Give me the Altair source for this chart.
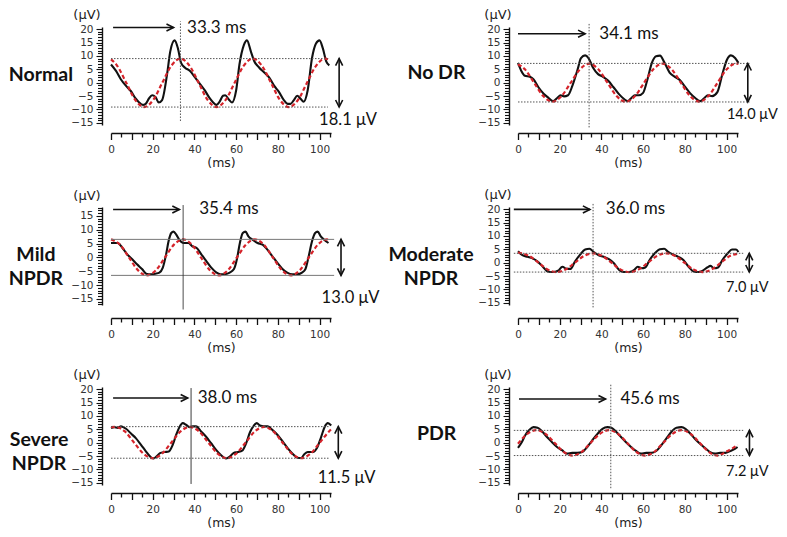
import math
import altair as alt
import pandas as pd

# ---------------- panel metadata ----------------
panel_labels = ["Normal", "No DR", "Mild\nNPDR", "Moderate\nNPDR", "Severe\nNPDR", "PDR"]
latency_labels = ["33.3 ms", "34.1 ms", "35.4 ms", "36.0 ms", "38.0 ms", "45.6 ms"]
amplitude_labels = ["18.1 μV", "14.0 μV", "13.0 μV", "7.0 μV", "11.5 μV", "7.2 μV"]

peak_level = [9.0, 7.2, 6.5, 3.5, 6.0, 4.6]
trough_level = [-9.1, -7.2, -6.5, -3.5, -5.8, -4.8]
level_start = [0, 0, 0, -2, 0, -2]
level_end = [104, 111, 107, 108, 105, 108]

latency_x = [33.3, 34.1, 34.6, 36.0, 38.4, 44.5]
latency_top = [22.9, 22.0, 18.9, 22.3, 20.4, 21.9]
latency_bottom = [-14.3, -16.7, -18.8, -16.7, -15.4, -17.0]

arrow_y = [20.6, 18.3, 17.3, 19.9, 16.7, 16.3]
arrow_start = [1.0, 0.0, 1.0, -2.0, 1.0, 0.5]
arrow_end = [30.0, 32.2, 32.8, 34.5, 36.8, 42.0]
latency_text_x = [36.5, 39.0, 42.3, 42.1, 41.6, 49.1]

amp_arrow_x = [109.4, 110.2, 110.3, 110.9, 109.0, 111.0]
amp_text_x = [99.8, 100.2, 101.0, 99.8, 99.1, 99.8]
amp_text_y = [-13.9, -12.0, -14.5, -9.4, -13.3, -11.1]
amp_font = [16.5, 14.5, 16.5, 14.5, 16.5, 14.5]

label_x = [-33.6, -39.1, -36.0, -41.7, -34.5, -39.0]
label_y = [3.0, 3.8, 0.7, 2.8, 1.0, 3.2]
unit_x = [-11.5, -9.6, -11.5, -9.6, -11.5, -9.6]
unit_y = [25.3, 25.3, 22.0, 25.3, 25.3, 25.3]

y_domains = [[-15.8, 20.8], [-15.8, 20.8], [-17.2, 18.2], [-15.8, 20.8], [-15.8, 20.8], [-15.8, 20.8]]
x_offsets = [8, 8, 13, 13, 8, 8]
vline_solid = [False, False, True, False, True, False]
level_solid = [False, False, True, False, False, False]

# ---------------- waveforms (ms, μV) ----------------
normal_black_t = [0, 2.4, 4.7, 7.1, 9.5, 11.8, 13.4, 15.3, 16.6, 18.2, 19.7, 21.3, 22.9, 24.5, 26.9, 28.4, 30.5, 32.1, 33.6, 35.5, 37.9, 40.3, 42.7, 45.0, 47.4, 49.0, 50.6, 52.1, 53.7, 54.8, 56.4, 58.0, 60.0, 61.6, 63.7, 65.2, 67.1, 68.7, 71.1, 73.5, 75.8, 78.2, 80.6, 82.9, 84.8, 86.1, 87.7, 89.3, 90.8, 92.4, 94.3, 96.4, 98.3, 100.0, 101.6, 103.2, 104.7]
normal_black_v = [6.8, 4.4, 1.3, -1.1, -3.1, -5.9, -7.3, -8.3, -7.9, -5.9, -4.7, -5.3, -7.4, -6.5, 3.2, 11.6, 15.8, 12.8, 7.4, 5.6, 4.4, 2.0, -0.5, -2.9, -5.9, -7.4, -8.3, -7.1, -4.9, -4.7, -6.2, -7.4, -2.9, 6.8, 14.0, 15.8, 11.6, 8.0, 5.6, 3.8, 2.0, -1.1, -3.5, -6.5, -7.9, -7.9, -6.5, -4.9, -5.9, -7.1, -2.9, 9.2, 14.6, 15.8, 12.8, 8.0, 6.5]
normal_red_t = [0, 2.9, 7.3, 11.6, 15.9, 20.3, 24.6, 29.0, 33.3, 37.6, 42.0, 46.3, 50.6, 55.0, 59.3, 63.7, 68.0, 72.3, 76.7, 81.0, 85.3, 89.7, 94.0, 98.4, 102.7, 104.7]
normal_red_v = [8.7, 6.4, 0, -6.4, -9.1, -6.4, 0, 6.4, 9.0, 6.4, 0, -6.4, -9.1, -6.4, 0, 6.4, 9.0, 6.4, 0, -6.4, -9.1, -6.4, 0, 6.4, 9.0, 8.5]

nodr_black_t = [0, 1.6, 3.3, 5.7, 7.4, 9.8, 12.3, 14.7, 16.8, 18.8, 20.4, 22.1, 24.0, 26.1, 28.6, 30.2, 32.2, 33.8, 36.0, 38.4, 40.8, 43.3, 45.8, 48.2, 50.7, 52.6, 54.4, 56.0, 58.0, 60.0, 62.1, 64.2, 66.2, 68.1, 70.3, 72.7, 75.2, 77.6, 80.1, 82.5, 85.0, 87.4, 89.4, 91.0, 93.1, 95.6, 98.0, 100.2, 102.1, 104.1, 105.7]
nodr_black_v = [7.4, 4.4, 2.6, 2.2, 1.3, -1.7, -4.1, -5.7, -6.9, -5.7, -4.7, -5.1, -4.7, -1.1, 5.0, 9.2, 10.2, 9.2, 5.6, 3.2, 2.2, 0.7, -1.7, -4.1, -6.0, -6.9, -5.7, -4.7, -4.7, -3.8, 1.3, 7.4, 9.9, 10.1, 7.4, 3.8, 2.2, 1.0, -1.5, -3.9, -5.7, -6.9, -5.7, -4.7, -5.0, -3.5, 3.2, 8.6, 10.2, 9.2, 7.4]
nodr_red_t = [0, 3.3, 7.7, 12.1, 16.5, 20.9, 25.3, 29.7, 34.1, 38.5, 42.9, 47.3, 51.7, 56.1, 60.5, 64.9, 69.3, 73.7, 78.1, 82.5, 86.9, 91.3, 95.7, 100.1, 104.5, 105.7]
nodr_red_v = [6.9, 5.0, 0, -5.0, -7.1, -5.0, 0, 5.0, 7.1, 5.0, 0, -5.0, -7.1, -5.0, 0, 5.0, 7.1, 5.0, 0, -5.0, -7.1, -5.0, 0, 5.0, 7.1, 7.0]

mild_black_t = [0, 3.2, 5.5, 7.9, 10.3, 12.6, 15.0, 16.9, 19.0, 21.3, 23.2, 24.8, 26.4, 27.6, 28.9, 30.0, 31.3, 32.7, 34.8, 37.1, 39.0, 41.1, 43.4, 45.8, 48.2, 50.6, 52.4, 54.5, 56.9, 58.9, 60.5, 61.8, 63.2, 64.5, 65.9, 67.9, 70.3, 72.7, 75.0, 77.4, 79.8, 82.1, 84.5, 86.9, 89.3, 91.6, 93.2, 94.8, 96.4, 97.9, 99.1, 100.6, 102.2, 104.3]
mild_black_v = [5.2, 5.2, 3.4, 1.0, -0.8, -2.6, -4.3, -5.9, -6.1, -5.9, -5.5, -3.8, 1.0, 5.8, 8.8, 9.3, 8.2, 6.4, 5.2, 5.2, 4.0, 3.4, 1.0, -1.4, -3.8, -5.5, -6.1, -6.1, -5.5, -4.3, -0.2, 5.2, 8.8, 9.3, 7.6, 6.4, 5.2, 4.6, 2.8, 0.4, -2.0, -4.1, -5.5, -6.1, -6.1, -5.5, -4.3, 0.4, 5.8, 8.8, 9.3, 7.6, 6.4, 5.2]
mild_red_t = [0, 4.3, 8.6, 12.9, 17.2, 21.6, 25.9, 30.2, 34.5, 38.8, 43.1, 47.4, 51.7, 56.1, 60.4, 64.7, 69.0, 73.3, 77.6, 81.9, 86.2, 90.6, 94.9, 99.2, 103.5, 105.0]
mild_red_v = [6.5, 4.6, 0, -4.6, -6.5, -4.6, 0, 4.6, 6.5, 4.6, 0, -4.6, -6.5, -4.6, 0, 4.6, 6.5, 4.6, 0, -4.6, -6.5, -4.6, 0, 4.6, 6.5, 6.3]

moderate_black_t = [0, 2.1, 4.6, 7.0, 9.4, 11.9, 14.3, 16.7, 19.2, 21.3, 23.3, 25.2, 27.3, 29.8, 32.2, 34.3, 36.3, 38.7, 41.1, 43.6, 46.0, 48.5, 50.6, 53.3, 55.8, 57.4, 59.3, 61.0, 63.1, 65.5, 68.0, 70.1, 72.0, 74.5, 76.9, 79.3, 81.8, 84.2, 86.7, 88.6, 90.7, 92.4, 94.0, 95.9, 98.0, 100.5, 102.6, 104.6, 105.7]
moderate_black_v = [4.3, 2.8, 2.2, 1.6, 0.4, -1.5, -3.3, -3.5, -3.0, -1.5, -2.3, -2.3, 0.4, 3.0, 4.9, 5.2, 4.0, 2.8, 2.2, 1.3, -0.2, -2.7, -3.5, -3.5, -2.7, -1.5, -2.1, -1.8, 1.0, 3.4, 5.0, 5.2, 4.0, 3.0, 2.2, 1.0, -1.5, -3.3, -3.5, -3.0, -1.8, -1.2, -2.1, -1.8, 1.0, 3.4, 4.9, 4.9, 4.0]
moderate_red_t = [0, 5.4, 9.8, 14.1, 18.5, 22.9, 27.3, 31.6, 36.0, 40.4, 44.8, 49.1, 53.5, 57.9, 62.3, 66.6, 71.0, 75.4, 79.8, 84.1, 88.5, 92.9, 97.3, 101.6, 105.7]
moderate_red_v = [3.8, 2.5, 0, -2.5, -3.5, -2.5, 0, 2.5, 3.5, 2.5, 0, -2.5, -3.5, -2.5, 0, 2.5, 3.5, 2.5, 0, -2.5, -3.5, -2.5, 0, 2.5, 3.4]

severe_black_t = [0, 1.6, 3.2, 4.8, 7.2, 9.6, 12.0, 14.4, 16.8, 18.7, 20.3, 21.9, 23.5, 25.6, 27.7, 29.6, 31.2, 32.8, 34.4, 36.0, 37.6, 39.2, 40.8, 43.2, 45.6, 48.0, 50.4, 52.8, 55.2, 57.1, 58.7, 60.8, 62.9, 64.8, 66.7, 68.5, 69.9, 71.5, 73.1, 75.2, 77.6, 80.0, 82.4, 84.8, 87.2, 89.6, 91.2, 92.8, 94.4, 96.8, 98.7, 100.8, 102.4, 104.0, 105.6]
severe_black_v = [5.5, 5.8, 5.5, 6.1, 5.2, 3.4, 1.6, -0.8, -3.3, -5.1, -5.9, -5.1, -3.9, -3.5, -3.3, -0.8, 2.8, 5.8, 7.3, 6.7, 5.8, 6.1, 6.1, 4.2, 2.2, -0.2, -2.7, -4.7, -5.9, -5.1, -3.9, -3.5, -3.0, -0.2, 4.0, 6.4, 7.3, 6.4, 6.1, 6.1, 4.6, 2.8, 0.4, -2.1, -4.2, -5.7, -5.7, -4.2, -3.5, -3.5, -2.1, 2.2, 5.8, 7.3, 6.4]
severe_red_t = [0, 2.2, 6.65, 11.1, 15.55, 20.0, 24.45, 28.9, 33.35, 37.8, 42.25, 46.7, 51.15, 55.6, 60.05, 64.5, 68.95, 73.4, 77.85, 82.3, 86.75, 91.2, 95.65, 100.1, 104.55, 105.6]
severe_red_v = [5.8, 5.9, 4.2, 0, -4.1, -5.8, -4.1, 0, 4.2, 5.9, 4.2, 0, -4.1, -5.8, -4.1, 0, 4.2, 5.9, 4.2, 0, -4.1, -5.8, -4.1, 0, 4.2, 5.0]

pdr_black_t = [0, 1.8, 3.4, 5.5, 7.4, 9.4, 11.5, 13.9, 16.3, 18.7, 21.1, 23.5, 26.0, 28.4, 30.8, 33.2, 35.6, 38.1, 40.5, 42.9, 44.8, 46.9, 49.4, 51.8, 54.2, 56.6, 59.0, 61.5, 63.9, 66.3, 68.7, 71.1, 73.5, 76.0, 78.4, 80.3, 82.4, 84.8, 87.3, 89.7, 92.1, 94.5, 96.9, 99.4, 101.8, 104.2, 105.3]
pdr_black_v = [-1.9, 0.2, 2.7, 4.8, 5.8, 5.6, 4.3, 2.1, 0.2, -1.6, -2.8, -4.1, -3.8, -3.8, -3.5, -1.6, 0.9, 3.3, 5.2, 5.8, 5.6, 4.2, 2.1, 0.2, -1.6, -3.1, -4.1, -3.8, -3.8, -3.1, -1.0, 1.5, 4.0, 5.6, 5.8, 5.2, 3.6, 1.5, -0.4, -2.0, -3.5, -4.1, -3.8, -3.8, -3.1, -2.2, -1.6]
pdr_red_t = [0, 4.45, 8.8, 13.15, 17.5, 21.85, 26.2, 30.55, 34.9, 39.25, 43.6, 47.95, 52.3, 56.65, 61.0, 65.35, 69.7, 74.05, 78.4, 82.75, 87.1, 91.45, 95.8, 100.15, 104.5, 105.3]
pdr_red_v = [-0.4, 3.3, 4.7, 3.3, 0, -3.4, -4.8, -3.4, 0, 3.3, 4.7, 3.3, 0, -3.4, -4.8, -3.4, 0, 3.3, 4.7, 3.3, 0, -3.4, -4.8, -3.2, -1.3, -0.8]

curves = [
    (normal_black_t, normal_black_v, normal_red_t, normal_red_v),
    (nodr_black_t, nodr_black_v, nodr_red_t, nodr_red_v),
    (mild_black_t, mild_black_v, mild_red_t, mild_red_v),
    (moderate_black_t, moderate_black_v, moderate_red_t, moderate_red_v),
    (severe_black_t, severe_black_v, severe_red_t, severe_red_v),
    (pdr_black_t, pdr_black_v, pdr_red_t, pdr_red_v),
]

x_major_ticks = list(range(0, 106, 10))
x_minor_ticks = list(range(5, 106, 10))

RED = "#d5232a"
INK = "#111111"
GUIDE = "#555555"
TXT = "Lato"
AXF = "DejaVu Sans"

HEAD_RIGHT = "M -1 -0.5 L 0 0 L -1 0.5"
HEAD_UP = "M -0.5 1 L 0 0 L 0.5 1"
HEAD_DOWN = "M -0.5 -1 L 0 0 L 0.5 -1"


def panel(i):
    bt, bv, rt, rv = curves[i]
    lo, hi = y_domains[i]
    xs = alt.Scale(domain=[0, 105.5], nice=False, zero=False)
    ys = alt.Scale(domain=[lo, hi], nice=False, zero=False)
    all_y = list(range(math.ceil(lo), math.floor(hi) + 1))

    x_major = alt.Axis(
        orient="bottom", values=x_major_ticks,
        labelExpr="datum.value % 20 === 0 ? datum.label : ''",
        tickSize=6.5, offset=x_offsets[i], title="(ms)", titleFont=AXF, titleFontSize=12.5,
        titleFontWeight="normal", titleColor="#222", titlePadding=1,
        labelFont=AXF, labelFontSize=10.5, labelColor="#333", labelPadding=5,
        labelOverlap=False, labelFlush=False, grid=False,
        domainColor=INK, tickColor=INK, domainWidth=1.3, tickWidth=1.3,
    )
    x_minor = alt.Axis(
        orient="bottom", values=x_minor_ticks, tickSize=4, offset=x_offsets[i],
        labels=False, domain=False, title=None, grid=False, tickColor=INK, tickWidth=1.3,
    )
    y_major = alt.Axis(
        orient="left", values=[v for v in all_y if v % 5 == 0],
        tickSize=6, offset=9, title=None, labelFont=AXF, labelFontSize=10.5, labelColor="#333",
        labelPadding=3, labelOverlap=False, labelFlush=False, grid=False,
        domainColor=INK, tickColor=INK, domainWidth=1.4, tickWidth=1.1,
    )
    y_minor = alt.Axis(
        orient="left", values=[v for v in all_y if v % 5 != 0], tickSize=4.5, offset=9,
        labels=False, domain=False, title=None, grid=False, tickColor=INK, tickWidth=1.1,
    )

    def X(f, ax=None):
        return alt.X(f, type="quantitative", scale=xs, axis=ax)

    def Y(f, ax=None):
        return alt.Y(f, type="quantitative", scale=ys, axis=ax)

    black = alt.Chart(pd.DataFrame({"t": bt, "v": bv})).mark_line(
        color=INK, strokeWidth=2.1, interpolate="monotone"
    ).encode(x=X("t", x_major), y=Y("v", y_major))

    red = alt.Chart(pd.DataFrame({"t": rt, "v": rv})).mark_line(
        color=RED, strokeWidth=2.2, strokeDash=[4, 2.5], interpolate="monotone"
    ).encode(x=X("t", x_minor), y=Y("v", y_minor))

    levels = alt.Chart(pd.DataFrame({
        "x0": [level_start[i]] * 2, "x1": [level_end[i]] * 2,
        "y": [peak_level[i], trough_level[i]],
    })).mark_rule(
        color="#777" if level_solid[i] else GUIDE, strokeWidth=1,
        strokeDash=[1, 0] if level_solid[i] else [1.5, 1.5],
    ).encode(x=X("x0"), x2="x1", y=Y("y"))

    vline = alt.Chart(pd.DataFrame({
        "x": [latency_x[i]], "y0": [latency_bottom[i]], "y1": [latency_top[i]],
    })).mark_rule(
        color="#333" if vline_solid[i] else GUIDE, strokeWidth=1,
        strokeDash=[1, 0] if vline_solid[i] else [1.5, 1.5],
    ).encode(x=X("x"), y=Y("y0"), y2="y1")

    shafts = alt.Chart(pd.DataFrame({
        "x0": [arrow_start[i], amp_arrow_x[i]], "x1": [arrow_end[i], amp_arrow_x[i]],
        "y0": [arrow_y[i], trough_level[i]], "y1": [arrow_y[i], peak_level[i]],
    })).mark_rule(color=INK, strokeWidth=1.6).encode(
        x=X("x0"), x2="x1", y=Y("y0"), y2="y1")

    heads = alt.Chart(pd.DataFrame({
        "x": [arrow_end[i], amp_arrow_x[i], amp_arrow_x[i]],
        "y": [arrow_y[i], peak_level[i], trough_level[i]],
        "shape": [HEAD_RIGHT, HEAD_UP, HEAD_DOWN],
    })).mark_point(filled=False, color=INK, strokeWidth=1.6, size=200, opacity=1).encode(
        x=X("x"), y=Y("y"), shape=alt.Shape("shape:N", scale=None))

    lat_text = alt.Chart(pd.DataFrame({
        "x": [latency_text_x[i]], "y": [arrow_y[i]], "s": [latency_labels[i]],
    })).mark_text(align="left", baseline="middle", font=TXT, fontSize=17, color=INK).encode(
        x=X("x"), y=Y("y"), text="s:N")

    amp_text = alt.Chart(pd.DataFrame({
        "x": [amp_text_x[i]], "y": [amp_text_y[i]], "s": [amplitude_labels[i]],
    })).mark_text(align="left", baseline="middle", font=TXT, fontSize=amp_font[i], color=INK).encode(
        x=X("x"), y=Y("y"), text="s:N")

    name_text = alt.Chart(pd.DataFrame({
        "x": [label_x[i]], "y": [label_y[i]], "s": [panel_labels[i]],
    })).mark_text(align="center", baseline="middle", font=TXT, fontSize=19.5, fontWeight="bold",
                  color=INK, lineBreak="\n", lineHeight=24).encode(
        x=X("x"), y=Y("y"), text="s:N")

    unit_text = alt.Chart(pd.DataFrame({
        "x": [unit_x[i]], "y": [unit_y[i]], "s": ["(μV)"],
    })).mark_text(align="center", baseline="middle", font=AXF, fontSize=13, color="#222").encode(
        x=X("x"), y=Y("y"), text="s:N")

    return alt.layer(
        black, red, levels, vline, shafts, heads, lat_text, amp_text, name_text, unit_text
    ).resolve_axis(x="independent", y="independent").properties(width=220, height=98)


chart = alt.concat(
    *[panel(i) for i in range(6)],
    columns=2,
    spacing={"row": 82, "column": 187},
    bounds="flush",
).properties(
    padding={"left": 0, "top": 0, "right": 0, "bottom": 0},
    background="white",
).configure_view(stroke=None)

chart.save("out.html", embed_options={"renderer": "svg", "actions": False})
